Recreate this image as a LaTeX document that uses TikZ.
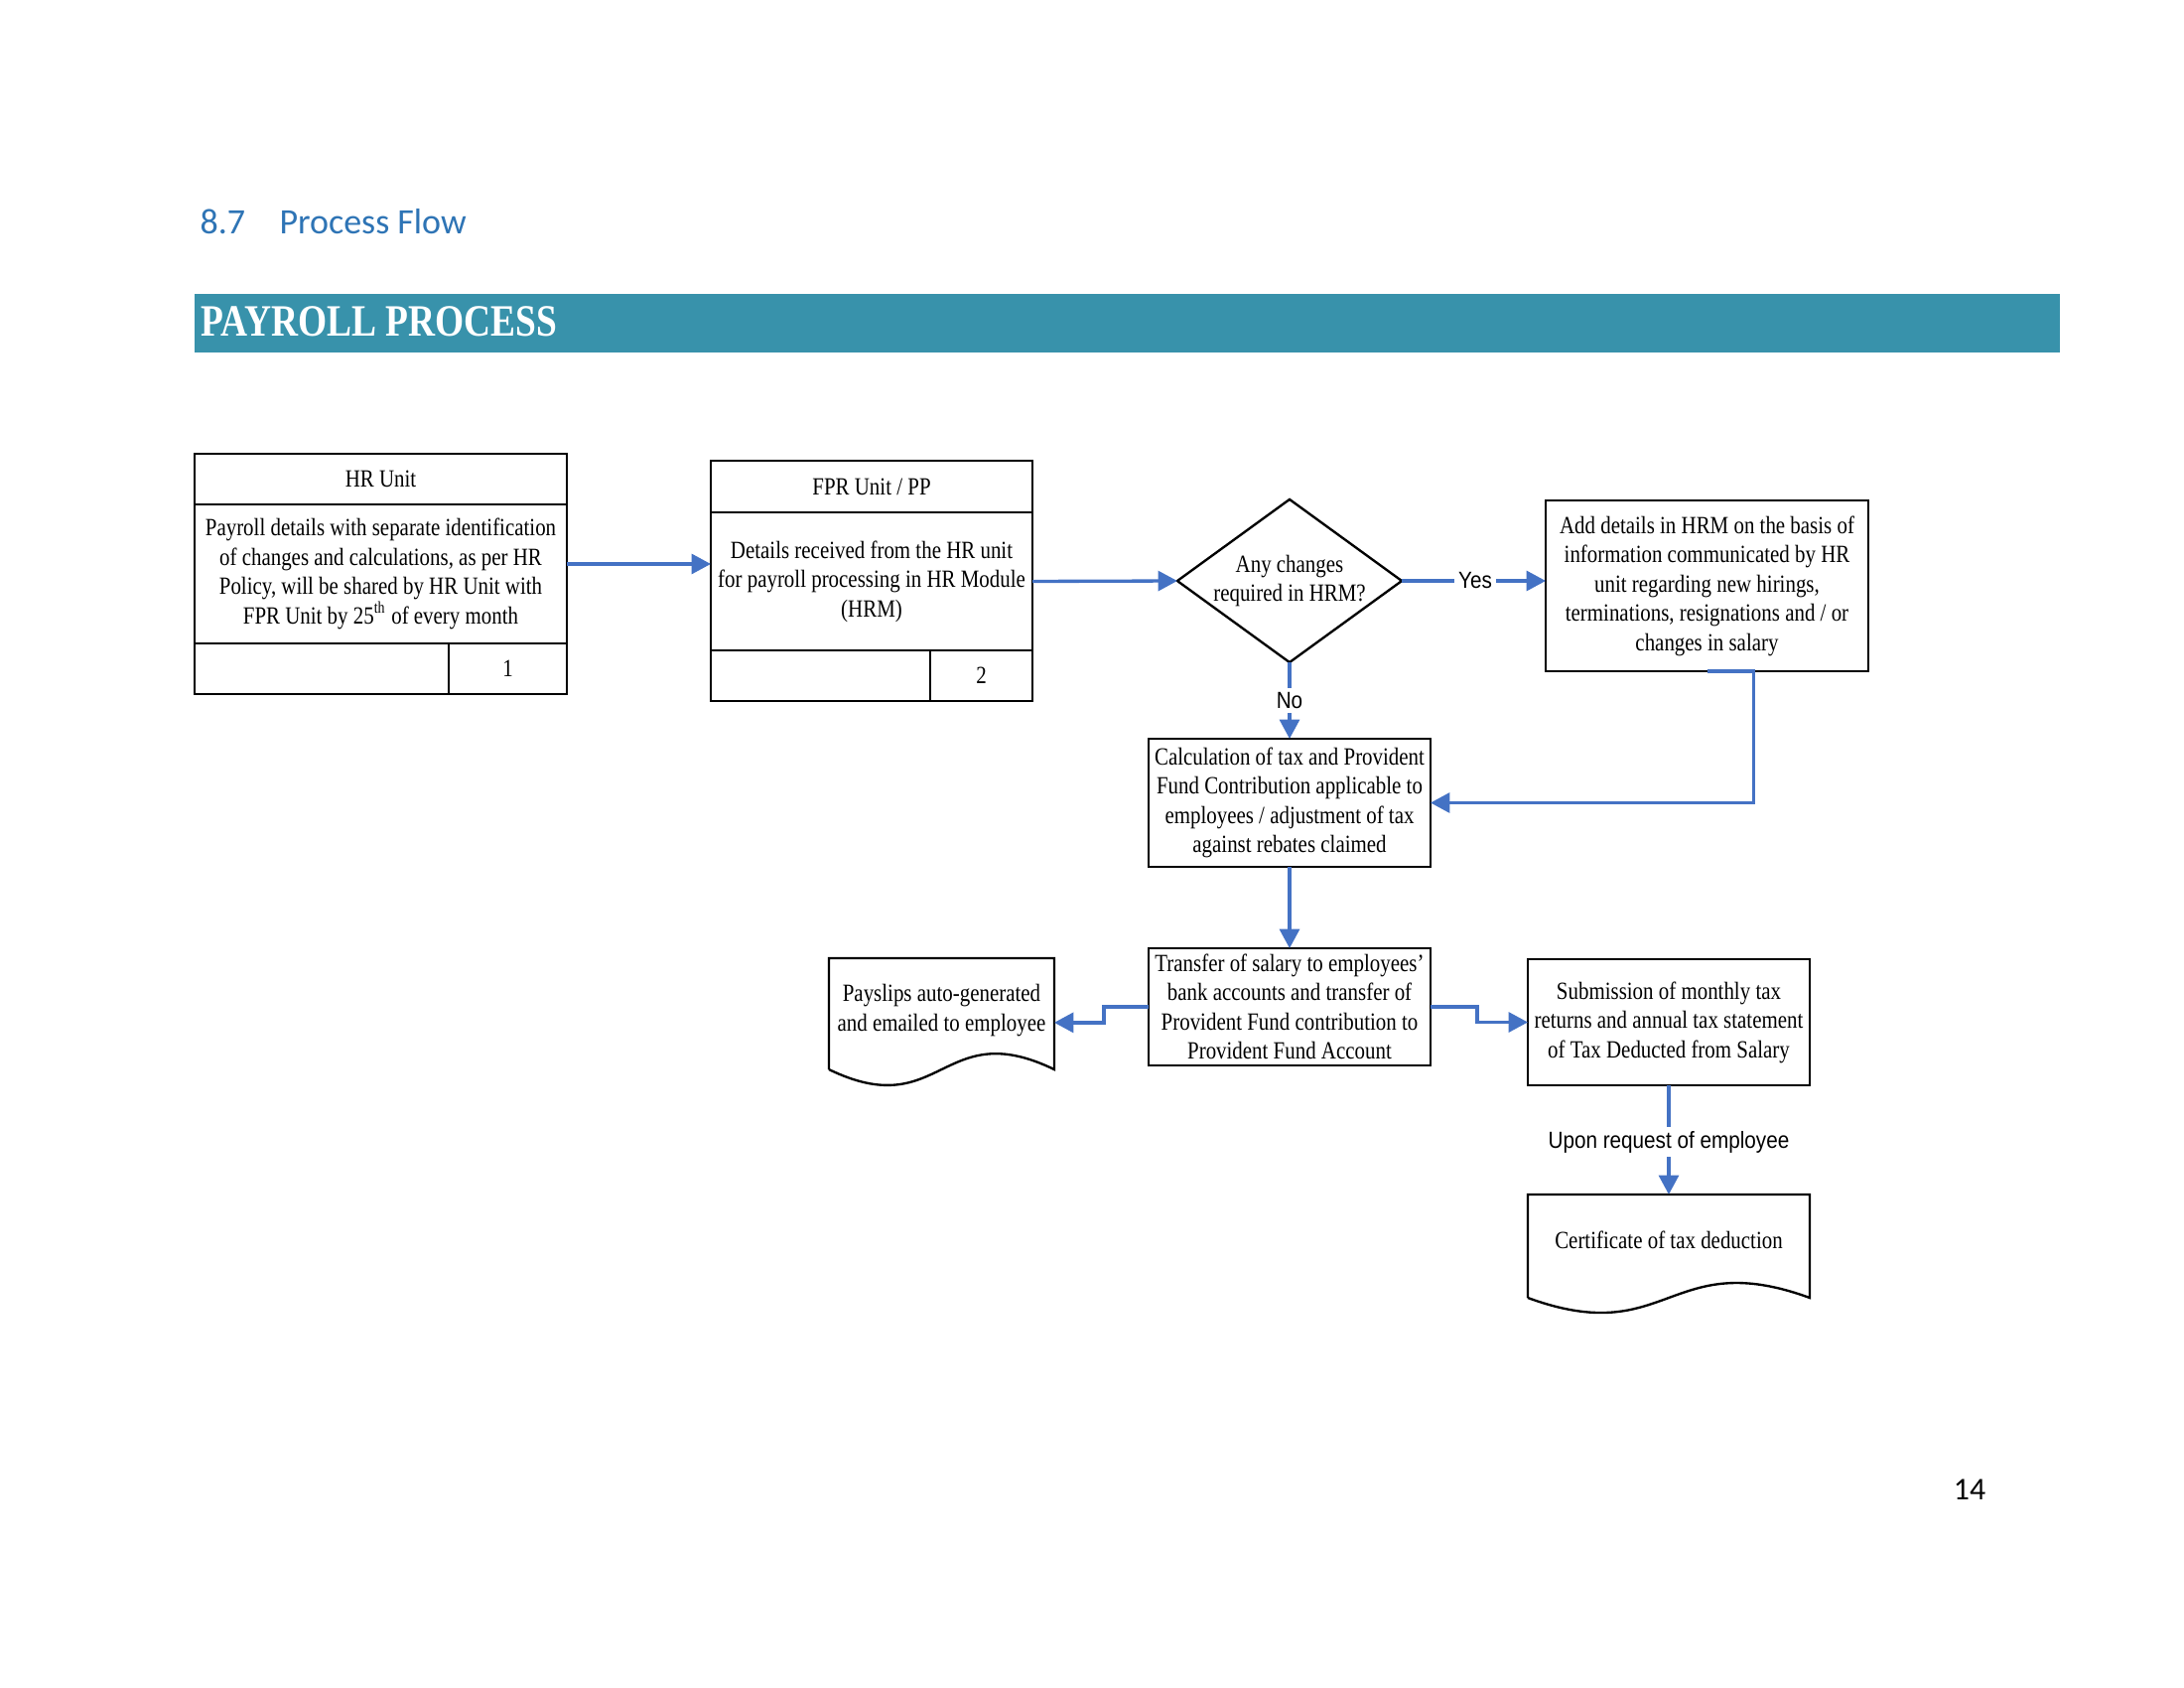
\documentclass[tikz,border=0pt]{standalone}
\usepackage{fontspec}
\usepackage{xcolor}
\usetikzlibrary{arrows.meta,calc,positioning,shapes.geometric}

\newfontfamily\boxfont[FakeStretch=0.84]{Liberation Serif}
\newfontfamily\tagfont[FakeStretch=0.88]{Liberation Sans}
\newfontfamily\headfont{Carlito}
\newfontfamily\bannerfont[FakeStretch=0.83]{Liberation Serif}

\definecolor{flowblue}{HTML}{4472C4}
\definecolor{headblue}{HTML}{2E74B5}
\definecolor{bannerteal}{HTML}{3892AB}

\begin{document}
\begin{tikzpicture}[x=0.36135pt,y=-0.36135pt,>={Triangle[length=7pt,width=7.2pt]},
  box/.style={draw, line width=0.85pt, inner sep=0pt, outer sep=0pt, align=center,
    font=\boxfont\fontsize{9}{10.65}\selectfont},
  doc/.style={align=center, inner sep=0pt, outer sep=0pt,
    font=\boxfont\fontsize{9}{10.65}\selectfont,
    execute at end node={\rule[-4.5pt]{0pt}{0pt}}},
  flow/.style={->, draw=flowblue, line width=1.2pt},
  tag/.style={fill=white, inner sep=1.5pt, font=\tagfont\fontsize{8.5}{10}\selectfont}]
  \useasboundingbox (0,0) rectangle (2200,1700);

  % Section heading and the banner.
  \node[anchor=base west, inner sep=0pt, text=headblue,
    font=\headfont\fontsize{13}{15}\selectfont] (secnum) at (201,235) {8.7};
  \node[anchor=base west, inner sep=0pt, text=headblue,
    font=\headfont\fontsize{13}{15}\selectfont] (sectitle) at (281,235) {Process Flow};
  \fill[bannerteal] (196,296) rectangle (2075,355);
  \node[anchor=base west, inner sep=0pt, text=white,
    font=\bannerfont\bfseries\fontsize{16.3}{18}\selectfont] (banner) at (202,338) {PAYROLL PROCESS};

  % HR unit card.
  \node[box, anchor=north west, minimum width=135.5pt, minimum height=18.4pt] (hrhead) at (196,457) {HR Unit};
  \node[box, below=0pt of hrhead, minimum width=135.5pt, minimum height=50.6pt] (hrbody)
    {Payroll details with separate identification\\of changes and calculations, as per HR\\Policy, will be shared by HR Unit with\\FPR Unit by 25\textsuperscript{th} of every month};
  \node[box, below=0pt of hrbody, minimum width=135.5pt, minimum height=18.4pt] (hrfoot) {};
  \node[box, anchor=south east, minimum width=43pt, minimum height=18.4pt] (hrnum) at (hrfoot.south east) {1};

  % FPR unit card.
  \node[box, anchor=north west, minimum width=117.1pt, minimum height=18.8pt] (fprhead) at (716,464) {FPR Unit / PP};
  \node[box, below=0pt of fprhead, minimum width=117.1pt, minimum height=50.2pt] (fprbody)
    {Details received from the HR unit\\for payroll processing in HR Module\\(HRM)};
  \node[box, below=0pt of fprbody, minimum width=117.1pt, minimum height=18.4pt] (fprfoot) {};
  \node[box, anchor=south east, minimum width=37.2pt, minimum height=18.4pt] (fprnum) at (fprfoot.south east) {2};

  % Decision and the steps after it.
  \node[box, diamond, shape aspect=1.38, minimum width=81.7pt, minimum height=59.3pt] (chk) at (1299,585)
    {Any changes\\required in HRM?};
  \node[box, minimum width=117.4pt, minimum height=62.2pt] (add) at (1719.5,590)
    {Add details in HRM on the basis of\\information communicated by HR\\unit regarding new hirings,\\terminations, resignations and / or\\changes in salary};
  \node[box, minimum width=102.6pt, minimum height=46.6pt] (calc) at (1299,808.5)
    {Calculation of tax and Provident\\Fund Contribution applicable to\\employees / adjustment of tax\\against rebates claimed};
  \node[box, minimum width=102.6pt, minimum height=42.6pt] (xfer) at (1299,1014)
    {Transfer of salary to employees’\\bank accounts and transfer of\\Provident Fund contribution to\\Provident Fund Account};
  \node[box, minimum width=102.6pt, minimum height=45.9pt] (sub) at (1681,1029.5)
    {Submission of monthly tax\\returns and annual tax statement\\of Tax Deducted from Salary};

  % Document shapes, wavy bottom edge.
  \node[doc, minimum width=82pt, minimum height=40.5pt] (slip) at (948.5,1021)
    {Payslips auto-generated\\and emailed to employee};
  \draw[line width=0.85pt] (slip.south west) -- (slip.north west) -- (slip.north east) -- (slip.south east)
    .. controls ($(slip.south)+(0,-55)$) and ($(slip.south)+(0,55)$) .. (slip.south west);
  \node[doc, minimum width=102.6pt, minimum height=37.6pt] (cert) at (1681,1255)
    {Certificate of tax deduction};
  \draw[line width=0.85pt] (cert.south west) -- (cert.north west) -- (cert.north east) -- (cert.south east)
    .. controls ($(cert.south)+(0,-52)$) and ($(cert.south)+(0,52)$) .. (cert.south west);

  % Connectors.
  \coordinate (hrout) at ([yshift=3.6pt]hrbody.east);
  \draw[flow] (hrout) -- (hrout -| fprbody.west);
  \draw[flow] (fprbody.east) -- (chk.west);
  \draw[flow] (chk.east) -- (chk.east -| add.west) node[tag, pos=0.51] {Yes};
  \draw[flow] (chk.south) -- (calc.north) node[tag, midway] {No};
  \draw[flow] (add.south) -- ++(47,0) |- (calc.east);
  \draw[flow] (calc.south) -- (xfer.north);
  \coordinate (slipin) at ([yshift=-3.2pt]slip.east);
  \draw[flow] (xfer.west) -- ++(-45,0) |- (slipin);
  \draw[flow] (xfer.east) -- ++(47,0) |- (sub.west);
  \draw[flow] (sub.south) -- (cert.north) node[tag, pos=0.52] {Upon request of employee};

  \node[anchor=base, inner sep=0pt, font=\headfont\fontsize{11.5}{13}\selectfont] (pageno) at (1984,1510) {14};
\end{tikzpicture}
\end{document}
